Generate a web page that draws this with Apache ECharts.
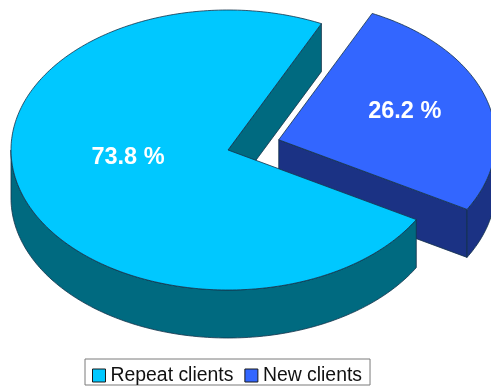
<!DOCTYPE html>
<html>
<head>
<meta charset="utf-8">
<style>html,body{margin:0;padding:0;background:#fff}#c{width:491px;height:386px}</style>
<script src="https://cdn.jsdelivr.net/npm/echarts@6/dist/echarts.min.js"></script>
</head>
<body>
<div id="c"></div>
<script>
// Client mix, in percent
const categories = ['Repeat clients', 'New clients'];
const shares = [73.8, 26.2];

// Colours per category
const topColors = ['#00C8FF', '#3366FF'];
const wallColors = ['#006A80', '#1B3284'];
const edgeColor = '#14324A';

// Tilted-disc layout
const centre = { x: 228, y: 150 };
const radius = { x: 217, y: 140 };
const depth = 48;
const explode = [0, 0.245];
const firstSliceEnd = 64.5;            // degrees where the repeat slice closes
const labelOffset = [[-100, 8], [126, -28]];

const toRad = Math.PI / 180;

// Sweep of each slice, clockwise in degrees, derived from the shares
function sweep(i) {
  const total = shares.reduce((a, b) => a + b, 0);
  const newSweep = shares[1] / total * 360;
  if (i === 1) return { from: firstSliceEnd, to: firstSliceEnd - newSweep };
  return { from: firstSliceEnd - newSweep, to: firstSliceEnd - 360 };
}

function point(o, deg, dy) {
  return [o.x + radius.x * Math.cos(deg * toRad), o.y - radius.y * Math.sin(deg * toRad) + (dy || 0)];
}

function arc(o, a, b, dy) {
  const n = Math.max(2, Math.ceil(Math.abs(a - b)));
  const pts = [];
  for (let k = 0; k <= n; k++) pts.push(point(o, a + (b - a) * k / n, dy));
  return pts;
}

function face(points, fill) {
  return {
    type: 'polygon',
    shape: { points },
    style: { fill, stroke: edgeColor, lineWidth: 0.8, lineJoin: 'round' }
  };
}

function renderSlice(i, value) {
  const { from, to } = sweep(i);
  const mid = (from + to) / 2;
  const o = {
    x: centre.x + explode[i] * radius.x * Math.cos(mid * toRad),
    y: centre.y - explode[i] * radius.y * Math.sin(mid * toRad)
  };
  const children = [];
  const apex = [o.x, o.y];
  const apexLow = [o.x, o.y + depth];

  // flat cut faces that turn towards the viewer
  if (Math.sin((from + 90) * toRad) < 0) {
    children.push(face([apex, point(o, from), point(o, from, depth), apexLow], wallColors[i]));
  }
  if (Math.sin((to - 90) * toRad) < 0) {
    children.push(face([apex, point(o, to), point(o, to, depth), apexLow], wallColors[i]));
  }

  // rim of the disc, front half only
  const hi = Math.min(from, 0);
  const lo = Math.max(to, -180);
  if (hi > lo) {
    children.push(face(arc(o, hi, lo, 0).concat(arc(o, lo, hi, depth)), wallColors[i]));
  }

  // top surface
  children.push(face([apex].concat(arc(o, from, to, 0)), topColors[i]));

  // value label
  children.push({
    type: 'text',
    style: {
      x: o.x + labelOffset[i][0],
      y: o.y + labelOffset[i][1],
      text: value.toFixed(1) + ' %',
      fill: '#fff',
      font: 'bold 23.5px "Liberation Sans", Arial, sans-serif',
      align: 'center',
      verticalAlign: 'middle'
    }
  });
  return { type: 'group', children };
}

function sliceSeries(i) {
  return {
    type: 'custom',
    name: categories[i],
    coordinateSystem: 'none',
    silent: true,
    itemStyle: { color: topColors[i] },
    data: [shares[i]],
    renderItem: (params, api) => renderSlice(i, api.value(0))
  };
}

const chart = echarts.init(document.getElementById('c'), null, { renderer: 'canvas' });
chart.setOption({
  animation: false,
  backgroundColor: '#fff',
  legend: {
    data: categories,
    left: 85,
    top: 359,
    orient: 'horizontal',
    icon: 'rect',
    itemWidth: 13,
    itemHeight: 13,
    itemGap: 11,
    padding: [7, 8, 0, 7],
    backgroundColor: '#fff',
    borderColor: '#7A7A7A',
    borderWidth: 1,
    selectedMode: false,
    itemStyle: { borderColor: '#1A1A1A', borderWidth: 1 },
    textStyle: { color: '#111', fontSize: 19.4, fontFamily: '"Liberation Sans", Arial, sans-serif', padding: 0 }
  },
  // the new-clients wedge sits behind the main disc
  series: [sliceSeries(1), sliceSeries(0)]
});
</script>
</body>
</html>
